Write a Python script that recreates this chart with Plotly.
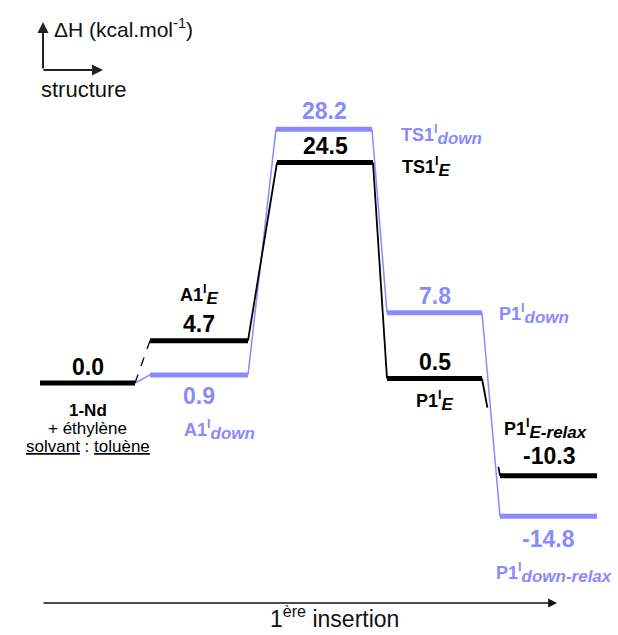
import plotly.graph_objects as go

# ---- data ----
columns = ["1-Nd", "A1", "TS1", "P1", "P1-relax"]
energy_E = [0.0, 4.7, 24.5, 0.5, -10.3]       # black pathway
energy_down = [0.0, 0.9, 28.2, 7.8, -14.8]    # blue pathway
SUBSZ = 17
def lab(name, sub):
    return f"{name}<sup>I</sup><sub><i><span style='font-size:{SUBSZ}px'>{sub}</span></i></sub>"
labels_E = ["", lab("A1", "E"), lab("TS1", "E"), lab("P1", "E"), lab("P1", "E-relax")]
labels_down = ["", lab("A1", "down"), lab("TS1", "down"), lab("P1", "down"), lab("P1", "down-relax")]

# ---- layout (pixel-like x positions of each level) ----
W, H = 618, 635
col_E = [(40, 135), (150, 248), (277, 373), (387, 482), (500, 597)]
col_down = [(40, 135), (150, 248), (276, 372), (387, 482), (500, 597)]
BLUE = "#8a8aff"
BLACK = "#000000"
FONT = "Liberation Sans, Arial, sans-serif"
PXU = 9.0        # px per kcal/mol
Y0 = 383         # pixel row of 0.0
y_top = Y0 / PXU
y_bot = -(H - Y0) / PXU

fig = go.Figure()

def seg(x0, y0, x1, y1, color, width, dash="solid"):
    fig.add_trace(go.Scatter(x=[x0, x1], y=[y0, y1], mode="lines",
                             line=dict(color=color, width=width, dash=dash),
                             hoverinfo="skip", showlegend=False))

# blue connectors
for i in range(len(columns) - 1):
    seg(col_down[i][1], energy_down[i], col_down[i + 1][0], energy_down[i + 1], BLUE, 1.5)
# black connectors
for i in range(len(columns) - 1):
    x0, y0 = col_E[i][1], energy_E[i]
    x1, y1 = col_E[i + 1][0], energy_E[i + 1]
    if i == 0:
        seg(x0, y0, x1, y1, BLACK, 1.3, "dash")
    elif i == 3:
        for a, b in [(0.0, 0.3), (0.91, 1.0)]:
            seg(x0 + (x1 - x0) * a, y0 + (y1 - y0) * a,
                x0 + (x1 - x0) * b, y0 + (y1 - y0) * b, BLACK, 1.8)
    else:
        seg(x0, y0, x1, y1, BLACK, 1.8)

# levels
for i in range(1, len(columns)):
    seg(col_down[i][0], energy_down[i], col_down[i][1], energy_down[i], BLUE, 5)
for i in range(len(columns)):
    seg(col_E[i][0], energy_E[i], col_E[i][1], energy_E[i], BLACK, 5)

ann = []

def txt(x, y, text, color=BLACK, size=18, bold=True, xanchor="center", yshift=0, xref="x", yref="y"):
    ann.append(dict(x=x, y=y, xref=xref, yref=yref, text=(f"<b>{text}</b>" if bold else text),
                    showarrow=False, xanchor=xanchor, yanchor="middle", yshift=yshift,
                    font=dict(family=FONT, size=size, color=color)))

def mid(c):
    return (c[0] + c[1]) / 2

NUM = 23
LAB = 18
# value labels
val_E_shift = [16, 17, 17, 17, 20]
for i, v in enumerate(energy_E):
    txt(mid(col_E[i]), v, f"{v:.1f}", BLACK, NUM, yshift=val_E_shift[i])
val_down_shift = [None, -21, 18, 17, -23]
for i in range(1, len(columns)):
    txt(mid(col_down[i]), energy_down[i], f"{energy_down[i]:.1f}", BLUE, NUM, yshift=val_down_shift[i])

# name labels
txt(mid(col_E[1]), energy_E[1], labels_E[1], BLACK, LAB, yshift=46)
txt(mid(col_down[1]) + 20, energy_down[1], labels_down[1], BLUE, LAB, yshift=-55)
txt(399, energy_down[2], labels_down[2], BLUE, LAB, xanchor="left", yshift=-6)
txt(400, energy_E[2], labels_E[2], BLACK, LAB, xanchor="left", yshift=-4)
txt(497, energy_down[3], labels_down[3], BLUE, LAB, xanchor="left", yshift=-1)
txt(mid(col_E[3]), energy_E[3], labels_E[3], BLACK, LAB, yshift=-22)
txt(502, energy_E[4], labels_E[4], BLACK, LAB, xanchor="left", yshift=47)
txt(494, energy_down[4], labels_down[4], BLUE, LAB, xanchor="left", yshift=-57)

# start label
txt(mid(col_E[0]), energy_E[0], "1-Nd", BLACK, 17, yshift=-27)
txt(mid(col_E[0]), energy_E[0], "+ éthylène", BLACK, 17, bold=False, yshift=-45)
txt(mid(col_E[0]), energy_E[0], "<u>solvant</u> : <u>toluène</u>", BLACK, 17, bold=False, yshift=-63)

def px(x, y):
    return x / W, 1 - y / H

# axis indicator
ax_, ay_ = px(43, 22)
ann.append(dict(x=ax_, y=ay_, xref="paper", yref="paper", text="", showarrow=True,
                ax=0, ay=48, arrowhead=2, arrowsize=1.1, arrowwidth=2, arrowcolor="#222"))
ax_, ay_ = px(103, 70)
ann.append(dict(x=ax_, y=ay_, xref="paper", yref="paper", text="", showarrow=True,
                ax=-61, ay=0, arrowhead=2, arrowsize=1.1, arrowwidth=2, arrowcolor="#222"))
x_, y_ = px(52, 28)
txt(x_, y_, "ΔH (kcal.mol<sup>-1</sup>)", "#111", 21, bold=False, xanchor="left", xref="paper", yref="paper")
x_, y_ = px(39, 90)
txt(x_, y_, "structure", "#111", 22, bold=False, xanchor="left", xref="paper", yref="paper")

# bottom axis
x_, y_ = px(557, 603)
ann.append(dict(x=x_, y=y_, xref="paper", yref="paper", text="", showarrow=True,
                ax=-515, ay=0, arrowhead=2, arrowsize=1.1, arrowwidth=1.6, arrowcolor="#111"))
x_, y_ = px(334, 617)
txt(x_, y_, "1<sup>ère</sup> insertion", "#111", 23, bold=False, xref="paper", yref="paper")

fig.update_layout(
    width=W, height=H, margin=dict(l=0, r=0, t=0, b=0),
    paper_bgcolor="white", plot_bgcolor="white",
    xaxis=dict(range=[0, W], visible=False, fixedrange=True),
    yaxis=dict(range=[y_bot, y_top], visible=False, fixedrange=True),
    annotations=ann, showlegend=False,
)
fig.write_html("out.html", config={"displayModeBar": False},
               post_script="document.body.style.margin='0';document.body.style.overflow='hidden';")
